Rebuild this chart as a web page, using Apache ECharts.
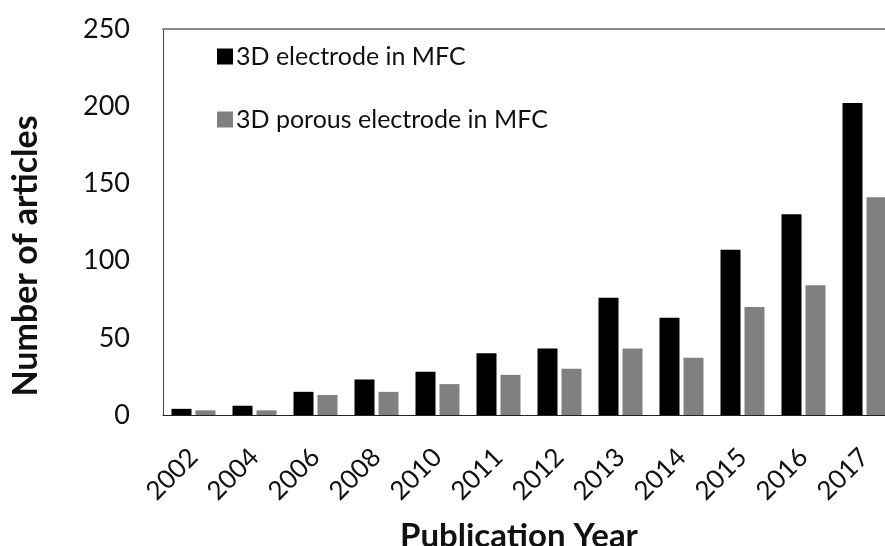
<!DOCTYPE html>
<html>
<head>
<meta charset="utf-8">
<script src="https://cdn.jsdelivr.net/npm/echarts@6/dist/echarts.min.js"></script>
<style>html,body{margin:0;padding:0;background:#fff;}#c{width:885px;height:546px;}</style>
</head>
<body>
<div id="c"></div>
<script>
const years = ['2002','2004','2006','2008','2010','2011','2012','2013','2014','2015','2016','2017'];
const electrode3D = [4, 6, 15, 23, 28, 40, 43, 76, 63, 107, 130, 202];
const porous3D = [3, 3, 13, 15, 20, 26, 30, 43, 37, 70, 84, 141];
const yTicks = [0, 50, 100, 150, 200, 250];

const chart = echarts.init(document.getElementById('c'));
const font = 'Lato, "Open Sans", sans-serif';
chart.setOption({
  backgroundColor: '#fff',
  animation: false,
  grid: { left: 163, right: -10, top: 29, bottom: 131, containLabel: false, outerBoundsMode: 'none' },
  legend: {
    left: 212, top: 39, orient: 'vertical', itemGap: 38,
    itemWidth: 16, itemHeight: 16, icon: 'rect',
    textStyle: { fontFamily: font, fontSize: 25, color: '#111', padding: [0, 0, 0, -2] },
    data: ['3D electrode in MFC', '3D porous electrode in MFC']
  },
  xAxis: [{
    type: 'category', data: years, position: 'bottom',
    axisLine: { lineStyle: { color: '#222', width: 1 } },
    axisTick: { show: false },
    axisLabel: { rotate: 45, fontFamily: font, fontSize: 26, color: '#111', margin: 38, interval: 0 },
    name: 'Publication Year', nameLocation: 'middle', nameGap: 105,
    nameTextStyle: { fontFamily: font, fontSize: 33, fontWeight: 'bold', color: '#111', padding: [0, 20, 0, 0] }
  }, {
    type: 'category', data: years, position: 'top',
    axisLine: { lineStyle: { color: '#888', width: 2 } },
    axisTick: { show: false }, axisLabel: { show: false }
  }],
  yAxis: {
    type: 'value', min: 0, max: 250, interval: 50,
    axisLine: { show: true, lineStyle: { color: '#444', width: 1 } },
    axisTick: { show: false },
    splitLine: { show: false },
    axisLabel: { fontFamily: font, fontSize: 27, color: '#111', margin: 33,
      formatter: v => yTicks.includes(v) ? String(v) : '' },
    name: 'Number of articles', nameLocation: 'middle', nameGap: 120,
    nameTextStyle: { fontFamily: font, fontSize: 34, fontWeight: 'bold', color: '#111', padding: [0, 68, 0, 0] }
  },
  series: [{
    name: '3D electrode in MFC', type: 'bar', data: electrode3D,
    barWidth: 20, barGap: '20%', itemStyle: { color: '#000' }
  }, {
    name: '3D porous electrode in MFC', type: 'bar', data: porous3D,
    barWidth: 20, itemStyle: { color: '#808080' }
  }]
});
</script>
</body>
</html>
